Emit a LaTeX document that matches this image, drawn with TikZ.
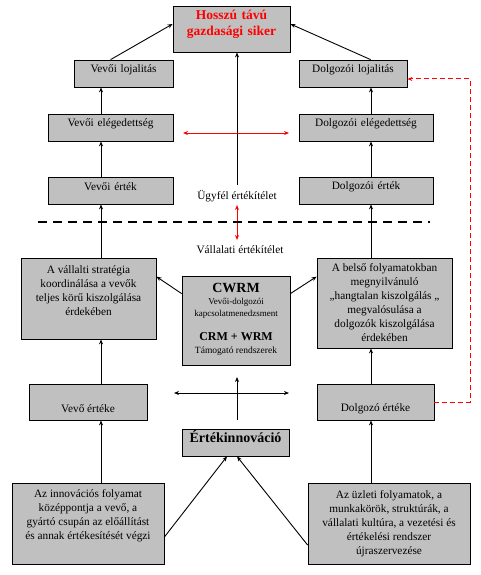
\documentclass[tikz,border=0pt]{standalone}
\usepackage{fontspec}
\setmainfont{Liberation Serif}
\usetikzlibrary{arrows.meta,fit,calc}
\definecolor{boxgray}{RGB}{192,192,192}
\definecolor{pured}{RGB}{255,0,0}
\tikzset{
  box/.style={draw=black, line width=0.8pt, fill=boxgray, inner sep=0pt},
  txt/.style={align=center, inner sep=0pt, font=\fontsize{11.3}{14}\selectfont},
  arr/.style={draw=black, line width=0.9pt, -{Stealth[length=5pt,width=4pt]}},
  redarr/.style={draw=pured, line width=0.9pt, {Stealth[length=5pt,width=4pt]}-{Stealth[length=5pt,width=4pt]}},
  blkdbl/.style={draw=black, line width=0.9pt, {Stealth[length=5pt,width=4pt]}-{Stealth[length=5pt,width=4pt]}},
  reddash/.style={draw=pured, line width=1pt, dash pattern=on 5pt off 3pt, -{Stealth[length=5pt,width=4pt]}},
  sepline/.style={draw=black, line width=1.5pt, dash pattern=on 9pt off 6pt}
}
\begin{document}
\begin{tikzpicture}[x=1pt,y=-1pt]
\useasboundingbox (0,0) rectangle (480,575);
% boxes
\node[box, fit={(173,6) (290,52)}, text=pured, font=\fontsize{13.5}{15.5}\selectfont\bfseries, align=center] (top) {Hosszú távú\\gazdasági siker};
\node[box, fit={(74,60) (173,87)}, txt] (vl) {Vevői lojalitás};
\node[box, fit={(299,60) (407,87)}, txt] (dl) {Dolgozói lojalitás};
\node[box, fit={(48,114) (173,141)}, txt] (ve) {Vevői elégedettség};
\node[box, fit={(299,114) (433,141)}, txt] (de) {Dolgozói elégedettség};
\node[box, fit={(48,177) (173,204)}, txt] (vr) {Vevői érték};
\node[box, fit={(299,177) (433,204)}, txt] (dr) {Dolgozói érték};
\node[box, fit={(21,258) (156,339)}] (strat) {};
\node[txt] (strat-t) at ([yshift=8pt]strat.center) {A vállalti stratégia\\koordinálása a vevők\\teljes körű kiszolgálása\\érdekében};
\node[box, fit={(182,276) (290,365)}] (cwrm) {};
\node[box, fit={(317,258) (452,348)}] (belso) {};
\node[txt] (belso-t) at (belso.center) {A belső folyamatokban\\megnyilvánuló\\„hangtalan kiszolgálás „\\megvalósulása a\\dolgozók kiszolgálása\\érdekében};
\node[box, fit={(29,384) (147,420)}] (vertek) {};
\node[txt] (vertek-t) at ([yshift=-7pt]vertek.center) {Vevő értéke};
\node[box, fit={(317,384) (434,420)}] (dertek) {};
\node[txt] (dertek-t) at ([yshift=-7pt]dertek.center) {Dolgozó értéke};
\node[box, fit={(182,429) (289,456)}, font=\fontsize{14}{16}\selectfont\bfseries] (innov) {Értékinnováció};
\node[box, fit={(12,483) (164,564)}] (bl) {};
\node[txt] (bl-t) at ([yshift=8pt]bl.center) {Az innovációs folyamat\\középpontja a vevő, a\\gyártó csupán az előállítást\\és annak értékesítését végzi};
\node[box, fit={(308,483) (470,564)}] (br) {};
\node[txt] (br-t) at (br.center) {Az üzleti folyamatok, a\\munkakörök, struktúrák, a\\vállalati kultúra, a vezetési és\\értékelési rendszer\\újraszervezése};
% CWRM contents
\node[inner sep=0pt, font=\fontsize{14}{16}\selectfont\bfseries] (c1) at (236,288) {CWRM};
\node[inner sep=0pt, font=\fontsize{9}{11}\selectfont] (c2) at (236,302) {Vevői-dolgozói};
\node[inner sep=0pt, font=\fontsize{9}{11}\selectfont] (c3) at (236,314) {kapcsolatmenedzsment};
\node[inner sep=0pt, font=\fontsize{12}{14}\selectfont\bfseries] (c4) at (236,337) {CRM + WRM};
\node[inner sep=0pt, font=\fontsize{9.5}{11}\selectfont] (c5) at (236,351) {Támogató rendszerek};
% labels
\node[txt] (ugyfel) at (237,196) {Ügyfél értékítélet};
\node[txt] (vallalati) at (240,250) {Vállalati értékítélet};
% helper coordinates
\coordinate (lx) at (101,0);
\coordinate (rx) at (371,0);
\coordinate (ugy) at (237,185);
\coordinate (rl) at (183,133);
\coordinate (rr) at (289,133);
\coordinate (rv1) at (237,205);
\coordinate (rv2) at (237,240);
\coordinate (d1) at (38,222);
\coordinate (d2) at (430,222);
\coordinate (ch1) at (174,393);
\coordinate (ch2) at (289,393);
\coordinate (cv1) at (237,420);
\coordinate (cv2) at (237,377);
% arrows to top
\draw[arr] ([xshift=37pt]vl.north west) -- ([yshift=5pt]top.west);
\draw[arr] ([xshift=72pt]dl.north west) -- ([yshift=5pt]top.east);
\draw[arr] (ugy) -- (ugy |- top.south);
% left column
\draw[arr] (ve.north -| lx) -- (vl.south -| lx);
\draw[arr] (vr.north -| lx) -- (ve.south -| lx);
\draw[arr] (strat.north -| lx) -- (vr.south -| lx);
\draw[arr] (vertek.north -| lx) -- (strat.south -| lx);
\draw[arr] (bl.north -| lx) -- (vertek.south -| lx);
% right column
\draw[arr] (de.north -| rx) -- (dl.south -| rx);
\draw[arr] (dr.north -| rx) -- (de.south -| rx);
\draw[arr] (belso.north -| rx) -- (dr.south -| rx);
\draw[arr] (dertek.north -| rx) -- (belso.south -| rx);
\draw[arr] (br.north -| rx) -- (dertek.south -| rx);
% cwrm arrows
\draw[arr] ([yshift=-18pt]cwrm.north west) -- ([yshift=-19pt]strat.north east);
\draw[arr] ([yshift=-18pt]cwrm.north east) -- ([yshift=-19pt]belso.north west);
% red arrows
\draw[redarr] (rl) -- (rr);
\draw[redarr] (rv1) -- (rv2);
% separator
\draw[sepline] (d1) -- (d2);
% cross
\draw[blkdbl] (ch1) -- (ch2);
\draw[arr] (cv1) -- (cv2);
% to innovation
\draw[arr] ([yshift=-13.5pt]bl.east) -- ([xshift=-8.5pt]innov.south);
\draw[arr] ([yshift=-21.5pt]br.west) -- ([xshift=1.5pt]innov.south);
% red dashed feedback
\draw[reddash] (dertek.east) -- ++(36,0) |- ([yshift=-5.5pt]dl.east);
\end{tikzpicture}
\end{document}
